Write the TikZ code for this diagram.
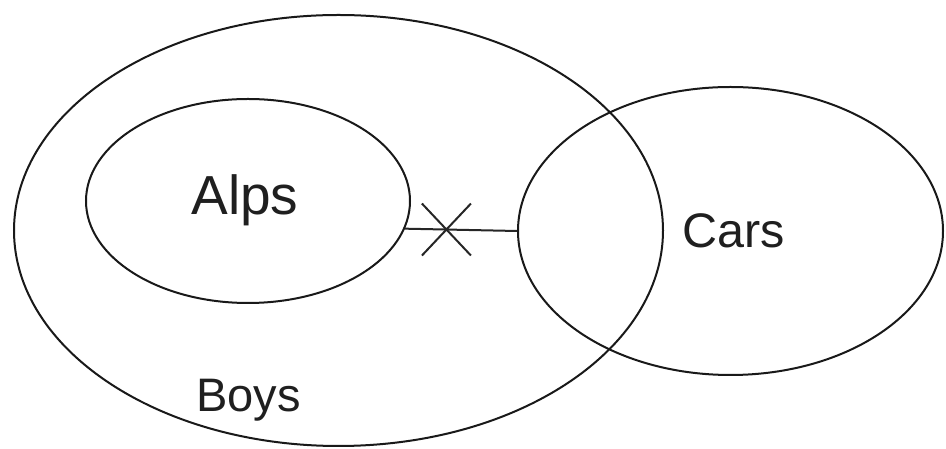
\documentclass[tikz,border=0pt]{standalone}
\usepackage{fontspec}
\setmainfont{Liberation Sans}
\usetikzlibrary{shapes.geometric,shapes.misc}

\tikzset{
  setring/.style={ellipse, draw=black!90, line width=2pt, inner sep=0pt},
  setlabel/.style={anchor=base, inner sep=0pt, text=black!88},
  link/.style={draw=black!85, line width=2pt},
  crossmark/.style={cross out, draw=black!85, line width=2pt, inner sep=0pt,
                    minimum width=47pt, minimum height=50pt}
}

\begin{document}
\begin{tikzpicture}[x=1pt, y=1pt]
  \useasboundingbox (0,0) rectangle (946,449);

  % the three sets
  \node[setring, minimum width=649pt, minimum height=431pt] (boys) at (338.5,218.5) {};
  \node[setring, minimum width=324pt, minimum height=204pt] (alps) at (248,248) {};
  \node[setring, minimum width=425pt, minimum height=288pt] (cars) at (730.5,218) {};

  % set names
  \node[setlabel, font=\fontsize{55}{60}\selectfont] (alpsname) at (245,234) {Alps};
  \node[setlabel, font=\fontsize{48.5}{54}\selectfont] (carsname) at (734,201) {Cars};
  \node[setlabel, font=\fontsize{47}{52}\selectfont] (boysname) at (248.5,37) {Boys};

  % crossed-out link between Alps and Cars
  \draw[link] (alps.-10) -- node[crossmark, pos=0.37] (nolink) {} (cars.west);
\end{tikzpicture}
\end{document}
